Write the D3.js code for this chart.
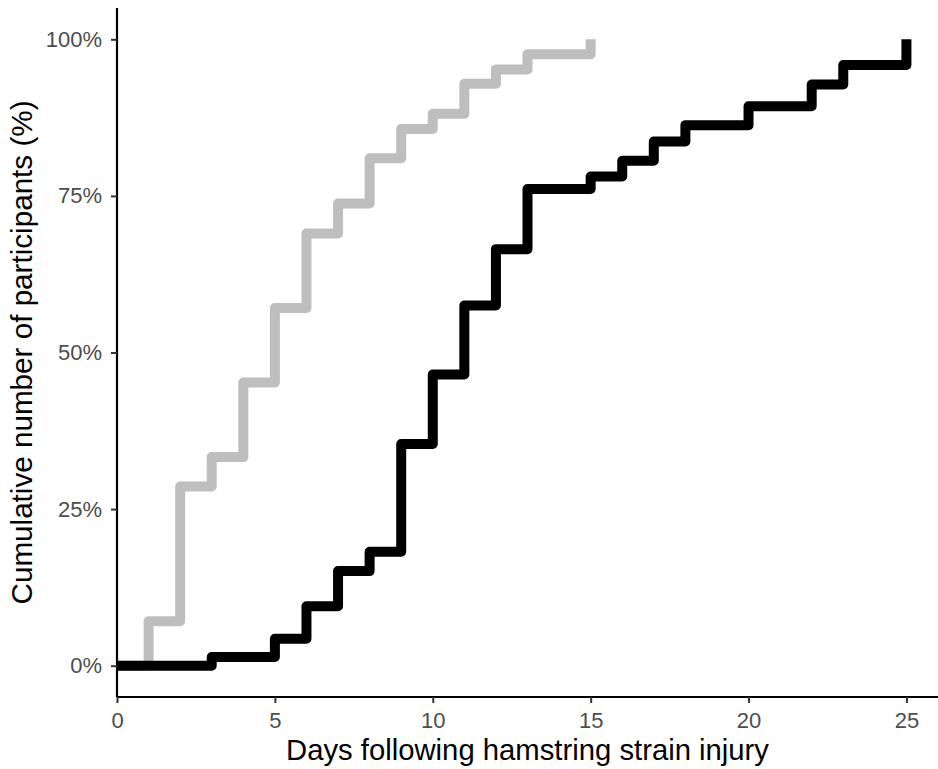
<!DOCTYPE html>
<html>
<head>
<meta charset="utf-8">
<script src="https://cdn.jsdelivr.net/npm/d3@7"></script>
<style>
  body { margin: 0; background: #fff; }
  text { font-family: "Liberation Sans", Arial, sans-serif; }
</style>
</head>
<body>
<div id="root"></div>
<script>
// grey group (faster return)
var greyDays = [0, 1, 2, 3, 4, 5, 6, 7, 8, 9, 10, 11, 12, 13, 15];
var greyPct = [0, 7.1, 28.6, 33.3, 45.2, 57.1, 69.0, 73.8, 81.0, 85.7, 88.1, 92.9, 95.2, 97.6, 100];
// black group
var blackDays = [0, 3, 5, 6, 7, 8, 9, 10, 11, 12, 13, 15, 16, 17, 18, 20, 22, 23, 25];
var blackPct = [0, 1.4, 4.3, 9.5, 15.1, 18.2, 35.4, 46.5, 57.5, 66.5, 76.1, 78.1, 80.6, 83.7, 86.3, 89.3, 92.8, 95.9, 100];
var xTicks = [0, 5, 10, 15, 20, 25];
var yTicks = [0, 25, 50, 75, 100];

var w = 938, h = 769;
var margin = {top: 8, right: 0, bottom: 72, left: 117};

var x = d3.scaleLinear().domain([0, 26]).range([margin.left, w - margin.right]);
var y = d3.scaleLinear().domain([-5, 105]).range([h - margin.bottom, margin.top]);

var svg = d3.select("#root").append("svg").attr("width", w).attr("height", h);

var line = d3.line()
  .x(function(d) { return x(d[0]); })
  .y(function(d) { return y(d[1]); })
  .curve(d3.curveStepAfter);

function pairs(days, pct) { return days.map(function(d, i) { return [d, pct[i]]; }); }

svg.append("path").datum(pairs(greyDays, greyPct)).attr("d", line)
  .attr("fill", "none").attr("stroke", "#bebebe").attr("stroke-width", 10)
  .attr("stroke-linejoin", "round").attr("stroke-linecap", "butt");
svg.append("path").datum(pairs(blackDays, blackPct)).attr("d", line)
  .attr("fill", "none").attr("stroke", "#000").attr("stroke-width", 10)
  .attr("stroke-linejoin", "round").attr("stroke-linecap", "butt");

// axes
var xAxis = svg.append("g").attr("transform", "translate(0," + (h - margin.bottom) + ")")
  .call(d3.axisBottom(x).tickValues(xTicks).tickSize(6).tickPadding(9));
var yAxis = svg.append("g").attr("transform", "translate(" + margin.left + ",0)")
  .call(d3.axisLeft(y).tickValues(yTicks).tickSize(6).tickPadding(9).tickFormat(function(d) { return d + "%"; }));

[xAxis, yAxis].forEach(function(g) {
  g.select(".domain").attr("stroke", "#000").attr("stroke-width", 2.2);
  g.selectAll(".tick line").attr("stroke", "#333").attr("stroke-width", 2);
  g.selectAll(".tick text").attr("fill", "#4d4d4d").style("font-size", "22px");
});
xAxis.select(".domain").attr("d", "M" + margin.left + ",0H" + w);
yAxis.select(".domain").attr("d", "M0," + margin.top + "V" + (h - margin.bottom));

svg.append("text").attr("x", (margin.left + w) / 2).attr("y", 760)
  .attr("text-anchor", "middle").style("font-size", "29px").attr("fill", "#000")
  .attr("textLength", 483).attr("lengthAdjust", "spacingAndGlyphs")
  .text("Days following hamstring strain injury");
svg.append("text").attr("transform", "translate(32," + ((margin.top + h - margin.bottom) / 2) + ") rotate(-90)")
  .attr("text-anchor", "middle").style("font-size", "29px").attr("fill", "#000")
  .attr("textLength", 504).attr("lengthAdjust", "spacingAndGlyphs")
  .text("Cumulative number of participants (%)");
</script>
</body>
</html>
